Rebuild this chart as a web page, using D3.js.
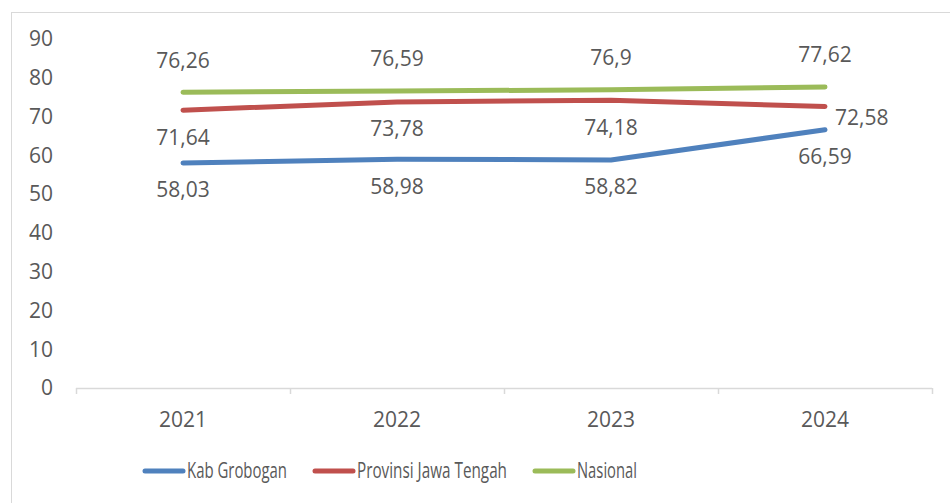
<!DOCTYPE html>
<html>
<head>
<meta charset="utf-8">
<script src="https://cdn.jsdelivr.net/npm/d3@7"></script>
<style>
  body { margin: 0; background: #fff; }
  text { font-family: "Open Sans", sans-serif; fill: #595959; }
</style>
</head>
<body>
<div id="chart"></div>
<script>
var years = ["2021", "2022", "2023", "2024"];
var kabGrobogan = [58.03, 58.98, 58.82, 66.59];
var provJateng = [71.64, 73.78, 74.18, 72.58];
var nasional = [76.26, 76.59, 76.9, 77.62];
var yTicks = [0, 10, 20, 30, 40, 50, 60, 70, 80, 90];

var width = 950,
    height = 503,
    margin = { top: 39, right: 18, bottom: 115, left: 76 };

var series = [
    { name: "Kab Grobogan", values: kabGrobogan, color: "#4f81bd", labelPos: ["below", "below", "below", "below"] },
    { name: "Provinsi Jawa Tengah", values: provJateng, color: "#c0504d", labelPos: ["below", "below", "below", "right"] },
    { name: "Nasional", values: nasional, color: "#9bbb59", labelPos: ["above", "above", "above", "above"] }
];

var svg = d3.select("#chart").append("svg")
    .attr("width", width)
    .attr("height", height);

// chart border (runs off the canvas on right / bottom)
svg.append("rect")
    .attr("x", 11.5).attr("y", 12.5)
    .attr("width", 960).attr("height", 520)
    .attr("fill", "none")
    .attr("stroke", "#d9d9d9");

var x = d3.scaleBand()
    .domain(years)
    .range([margin.left, width - margin.right]);

var y = d3.scaleLinear()
    .domain([0, 90])
    .range([height - margin.bottom, margin.top]);

var fmt = function(v) { return String(v).replace(".", ","); };

// y axis labels
svg.append("g").selectAll("text")
    .data(yTicks)
    .enter().append("text")
    .attr("x", 53)
    .attr("y", function(d) { return y(d); })
    .attr("dy", "0.35em")
    .attr("text-anchor", "end")
    .style("font-size", "21px")
    .text(function(d) { return d; });

// x axis
var baseY = y(0);
svg.append("line")
    .attr("x1", x.range()[0]).attr("x2", x.range()[1])
    .attr("y1", baseY + 0.5).attr("y2", baseY + 0.5)
    .attr("stroke", "#d9d9d9").attr("stroke-width", 1.5);

var bounds = years.map(function(d) { return x(d); }).concat([x.range()[1]]);
svg.append("g").selectAll("line")
    .data(bounds)
    .enter().append("line")
    .attr("x1", function(d) { return Math.round(d) + 0.5; })
    .attr("x2", function(d) { return Math.round(d) + 0.5; })
    .attr("y1", baseY).attr("y2", baseY + 6)
    .attr("stroke", "#d9d9d9").attr("stroke-width", 1.5);

svg.append("g").selectAll("text")
    .data(years)
    .enter().append("text")
    .attr("x", function(d) { return x(d) + x.bandwidth() / 2; })
    .attr("y", baseY + 32)
    .attr("dy", "0.35em")
    .attr("text-anchor", "middle")
    .style("font-size", "21px")
    .text(function(d) { return d; });

// lines
var line = d3.line()
    .x(function(d, i) { return x(years[i]) + x.bandwidth() / 2; })
    .y(function(d) { return y(d); });

svg.append("g").selectAll("path")
    .data(series)
    .enter().append("path")
    .attr("d", function(s) { return line(s.values); })
    .attr("fill", "none")
    .attr("stroke", function(s) { return s.color; })
    .attr("stroke-width", 5)
    .attr("stroke-linecap", "round")
    .attr("stroke-linejoin", "round");

// data labels
series.forEach(function(s) {
    svg.append("g").selectAll("text")
        .data(s.values)
        .enter().append("text")
        .attr("x", function(d, i) {
            var cx = x(years[i]) + x.bandwidth() / 2;
            return s.labelPos[i] === "right" ? cx + 10 : cx;
        })
        .attr("y", function(d, i) {
            var p = s.labelPos[i];
            if (p === "above") return y(d) - 32;
            if (p === "below") return y(d) + 27;
            return y(d) + 11;
        })
        .attr("dy", "0.35em")
        .attr("text-anchor", function(d, i) { return s.labelPos[i] === "right" ? "start" : "middle"; })
        .style("font-size", "21px")
        .text(function(d) { return fmt(d); });
});

// legend
var legendX = [145, 315, 535];
var legendW = [100, 150, 60];
var legend = svg.append("g").selectAll("g")
    .data(series)
    .enter().append("g")
    .attr("transform", function(d, i) { return "translate(" + legendX[i] + ",471)"; });

legend.append("line")
    .attr("x1", 0).attr("x2", 38)
    .attr("stroke", function(d) { return d.color; })
    .attr("stroke-width", 5)
    .attr("stroke-linecap", "round");

legend.append("text")
    .attr("x", 42)
    .attr("dy", "0.35em")
    .attr("textLength", function(d, i) { return legendW[i]; })
    .attr("lengthAdjust", "spacingAndGlyphs")
    .style("font-size", "21px")
    .text(function(d) { return d.name; });
</script>
</body>
</html>
